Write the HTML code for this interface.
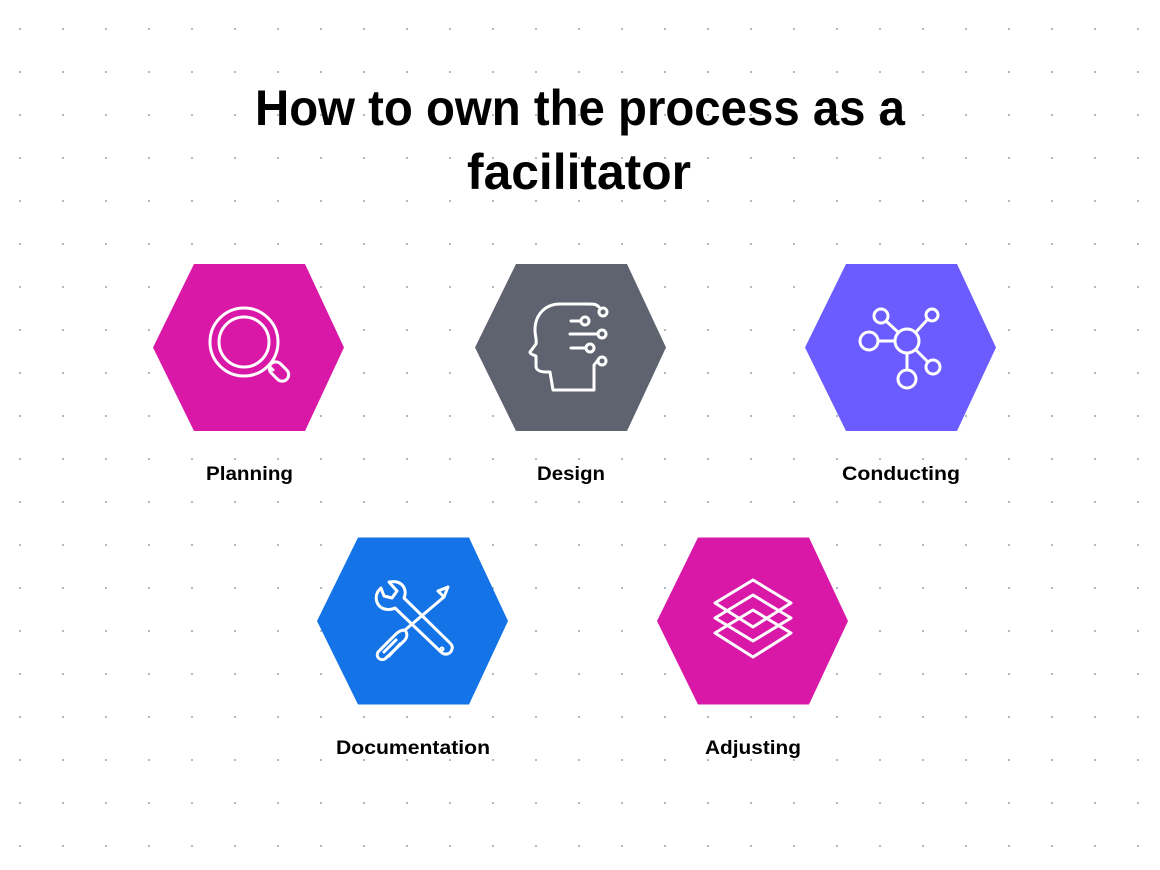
<!DOCTYPE html>
<html><head><meta charset="utf-8"><style>
html,body{margin:0;padding:0;background:#fff;}
svg{display:block;}
text{font-family:"Liberation Sans",sans-serif;font-weight:bold;fill:#000;}
</style></head><body>
<svg width="1160" height="870" viewBox="0 0 1160 870" xmlns="http://www.w3.org/2000/svg">
<defs>
<pattern id="dots" x="0" y="0" width="43" height="43" patternUnits="userSpaceOnUse">
<rect x="19" y="28" width="2" height="2" fill="#b4b7c6"/>
</pattern>
<polygon id="hex" points="-95.5,0 -54.5,-83.5 56.5,-83.5 95.5,0 56.5,83.5 -54.5,83.5"/>
</defs>
<rect width="1160" height="870" fill="url(#dots)"/>

<text x="580" y="125" font-size="50" text-anchor="middle" textLength="650" lengthAdjust="spacingAndGlyphs">How to own the process as a</text>
<text x="579" y="189" font-size="50" text-anchor="middle" textLength="224" lengthAdjust="spacingAndGlyphs">facilitator</text>

<use href="#hex" x="248.5" y="347.5" fill="#d918a8"/>
<use href="#hex" x="570.5" y="347.5" fill="#5e636f"/>
<use href="#hex" x="900.5" y="347.5" fill="#6a5cff"/>
<use href="#hex" x="412.5" y="621" fill="#1473e6"/>
<use href="#hex" x="752.5" y="621" fill="#d918a8"/>

<g fill="none" stroke="#fff" stroke-width="3" stroke-linecap="round" stroke-linejoin="round">
<circle cx="244" cy="342" r="34"/>
<circle cx="244" cy="342" r="25"/>
<line x1="269" y1="366" x2="273" y2="370"/>
<rect x="268" y="365" width="22" height="13" rx="6.5" transform="rotate(45 279 371.5)"/>
<path d="M599 307 C596 304 594 304 588 304 L560 304 C545 304 535 315 535 330 C535 336 537 340 536 344 L530 352 C530 354 533 355 536 356 L536 366 C536 370 540 372 546 372 L550 372 L553 390 L594 390 L594 365 L598 360"/>
<circle cx="603" cy="312" r="4"/><circle cx="585" cy="321" r="4"/><circle cx="602" cy="334" r="4"/><circle cx="590" cy="348" r="4"/><circle cx="602" cy="361" r="4"/>
<line x1="571" y1="321" x2="581" y2="321"/>
<line x1="570" y1="334" x2="598" y2="334"/>
<line x1="571" y1="348" x2="586" y2="348"/>
<circle cx="907" cy="341" r="12"/>
<circle cx="881" cy="316" r="7"/><circle cx="932" cy="315" r="6"/><circle cx="869" cy="341" r="9"/><circle cx="933" cy="367" r="7"/><circle cx="907" cy="379" r="9"/>
<line x1="886" y1="321" x2="898" y2="332"/><line x1="928" y1="319" x2="916" y2="332"/><line x1="878" y1="341" x2="895" y2="341"/><line x1="916" y1="350" x2="928" y2="362"/><line x1="907" y1="353" x2="907" y2="370"/>
<path d="M381 588 C374 594 375 604 382 608 C386 610 391 610 395 608 L441 652 C445 656 451 654 452 649 C453 646 451 644 449 642 L404 598 C407 591 404 584 397 582 C393 581 391 582 389 582 L397 591 L392 598 L384 596 Z"/>
<circle cx="442" cy="649" r="1"/>
<path d="M448 587 L444 597 L405 630 C408 634 407 638 404 641 L386 658 C382 662 375 658 378 652 L396 634 C399 631 402 630 405 630 M444 597 L438 591 L448 587"/>
<line x1="384" y1="652" x2="396" y2="640"/><line x1="389" y1="656" x2="400" y2="644"/>
<path d="M753 580 L791 603 L753 627 L715 603 Z"/>
<path d="M753 595 L791 618 L753 641 L715 618 Z"/>
<path d="M753 610 L791 633 L753 657 L715 633 Z"/>
</g>

<text x="249.5" y="480" font-size="19" text-anchor="middle" textLength="87" lengthAdjust="spacingAndGlyphs">Planning</text>
<text x="571" y="480" font-size="19" text-anchor="middle" textLength="68" lengthAdjust="spacingAndGlyphs">Design</text>
<text x="901" y="480" font-size="19" text-anchor="middle" textLength="118" lengthAdjust="spacingAndGlyphs">Conducting</text>
<text x="413" y="754" font-size="19" text-anchor="middle" textLength="154" lengthAdjust="spacingAndGlyphs">Documentation</text>
<text x="753" y="754" font-size="19" text-anchor="middle" textLength="96" lengthAdjust="spacingAndGlyphs">Adjusting</text>
</svg>
</body></html>
